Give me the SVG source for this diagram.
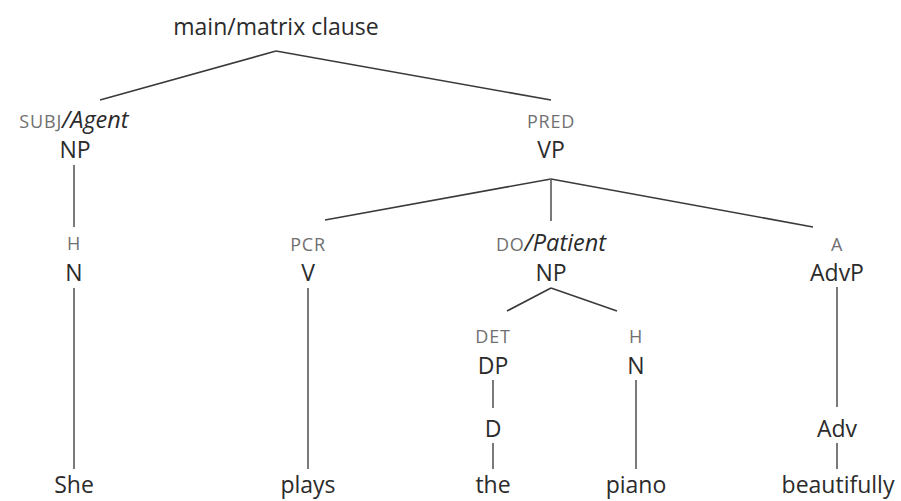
<svg xmlns="http://www.w3.org/2000/svg" width="901" height="501" viewBox="0 0 901 501">
<style>
text{font-family:"Open Sans","Noto Sans","Liberation Sans",sans-serif;text-anchor:middle;fill:#2b2b2b}
.cat{font-size:23px}
.fn{font-size:18px;fill:#707070;letter-spacing:0.8px}
.it{font-style:italic;font-size:23.5px;fill:#2b2b2b;letter-spacing:0}
.conn line{stroke:#3a3a3a;stroke-width:1.6;fill:none}
.conn .v{stroke:#7a7a7a;stroke-width:2}
</style>
<rect width="901" height="501" fill="#fff"/>
<g id="connectors" class="conn">
<line x1="276" y1="51" x2="100" y2="100"/>
<line x1="276" y1="51" x2="551" y2="100"/>
<line class="v" x1="74" y1="165" x2="74" y2="227"/>
<line class="v" x1="74" y1="288" x2="74" y2="469"/>
<line x1="551" y1="179" x2="325" y2="220"/>
<line class="v" x1="551" y1="179" x2="551" y2="221"/>
<line x1="551" y1="179" x2="813" y2="227"/>
<line class="v" x1="308" y1="288" x2="308" y2="469"/>
<line x1="551" y1="288" x2="507" y2="311"/>
<line x1="551" y1="288" x2="617" y2="311"/>
<line class="v" x1="493" y1="380" x2="493" y2="408"/>
<line class="v" x1="493" y1="443" x2="493" y2="469"/>
<line class="v" x1="636" y1="380" x2="636" y2="469"/>
<line class="v" x1="837" y1="287" x2="837" y2="407"/>
<line class="v" x1="837" y1="443" x2="837" y2="469"/>
</g>
<g id="root"><text class="cat" x="276" y="35">main/matrix clause</text></g>
<g id="subj-np"><text x="74" y="128"><tspan class="fn">SUBJ</tspan><tspan class="it">/Agent</tspan></text><text class="cat" x="75" y="158">NP</text></g>
<g id="pred-vp"><text class="fn" x="551" y="128">PRED</text><text class="cat" x="551" y="158">VP</text></g>
<g id="h-n1"><text class="fn" x="74" y="250">H</text><text class="cat" x="74" y="281">N</text></g>
<g id="pcr-v"><text class="fn" x="308" y="251">PCR</text><text class="cat" x="308" y="281">V</text></g>
<g id="do-np"><text x="551" y="251"><tspan class="fn">DO</tspan><tspan class="it">/Patient</tspan></text><text class="cat" x="551" y="281">NP</text></g>
<g id="a-advp"><text class="fn" x="837" y="251">A</text><text class="cat" x="837" y="281">AdvP</text></g>
<g id="det-dp"><text class="fn" x="493" y="343">DET</text><text class="cat" x="493" y="374">DP</text></g>
<g id="h-n2"><text class="fn" x="636" y="343">H</text><text class="cat" x="636" y="374">N</text></g>
<g id="d"><text class="cat" x="493" y="437">D</text></g>
<g id="adv"><text class="cat" x="837" y="437">Adv</text></g>
<g id="she"><text class="cat" x="74" y="493">She</text></g>
<g id="plays"><text class="cat" x="308" y="493">plays</text></g>
<g id="the"><text class="cat" x="493" y="493">the</text></g>
<g id="piano"><text class="cat" x="636" y="493">piano</text></g>
<g id="beautifully"><text class="cat" x="838" y="493">beautifully</text></g>
</svg>
